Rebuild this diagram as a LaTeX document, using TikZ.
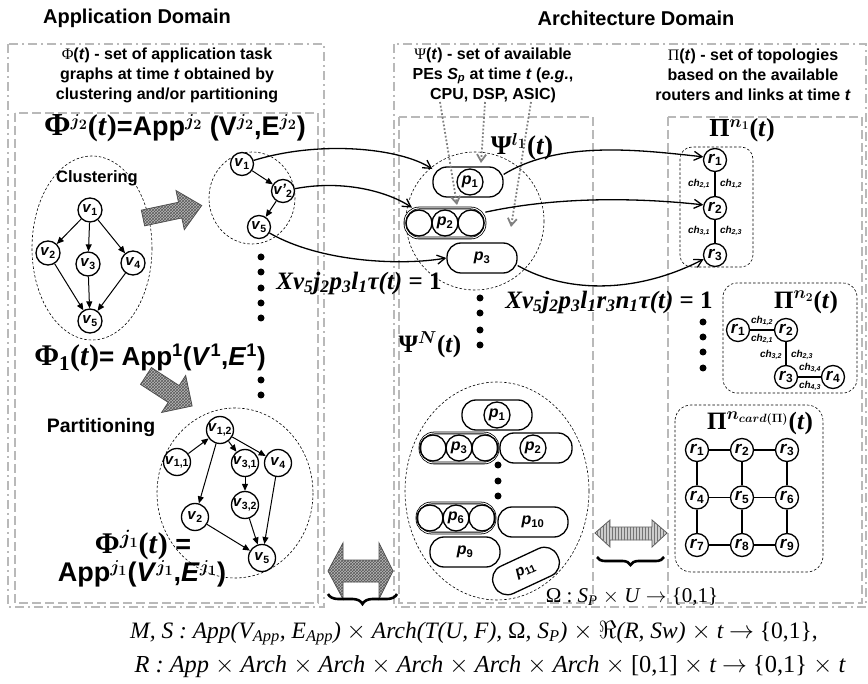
\documentclass[tikz,border=0pt]{standalone}
\usepackage{fontspec}
\setmainfont{Liberation Sans}
\newfontfamily\tms{Liberation Serif}
\usetikzlibrary{patterns,decorations.pathreplacing,arrows.meta,shapes.geometric}
\newcommand\vv[2]{\textit{#1}\textsubscript{#2}}
\begin{document}
\begin{tikzpicture}[x=1pt,y=-1pt,
  every node/.style={inner sep=0pt},
  gbox/.style={draw=gray!55, line width=1.6pt, dash pattern=on 9pt off 4pt on 2pt off 4pt},
  gin/.style={draw=gray!55, line width=1.3pt, dash pattern=on 9pt off 4pt},
  cloud/.style={draw, line width=0.6pt, dash pattern=on 2.5pt off 2pt},
  vn/.style={circle, draw, line width=1.3pt, minimum size=24pt, fill=white, font=\bfseries\fontsize{15}{15}\selectfont},
  rn/.style={circle, draw, line width=1.3pt, minimum size=23pt, fill=white, font=\bfseries\fontsize{17}{17}\selectfont},
  ge/.style={-{Triangle[length=7pt,width=6pt]}, line width=1pt},
  lk/.style={line width=1.3pt},
  pe/.style={draw, line width=1.3pt, rectangle, rounded corners=14pt, minimum width=70pt, minimum height=30pt, font=\bfseries\fontsize{16}{16}\selectfont},
  prow/.style={draw, double, double distance=1pt, line width=0.8pt, rectangle, rounded corners=14pt, minimum width=80pt, minimum height=30pt},
  pc/.style={circle, draw, line width=1.3pt, minimum size=26pt, font=\bfseries\fontsize{16}{16}\selectfont},
  map/.style={-{Straight Barb[length=8pt,width=9pt]}, line width=1.3pt},
  hint/.style={gray, line width=1.8pt, dotted, -{Straight Barb[length=7pt,width=9pt]}},
  dot/.style={circle, fill, minimum size=7pt},
  ch/.style={font=\bfseries\itshape\fontsize{10}{10}\selectfont},
  hatch/.style={draw=gray!60!black, line width=0.8pt, fill=gray!55, postaction={pattern=crosshatch, pattern color=black!65}},
  vhatch/.style={draw=gray!70!black, line width=0.8pt, fill=gray!40, postaction={pattern=vertical lines, pattern color=black!55}},
  brc/.style={decorate, decoration={brace, amplitude=10pt}, line width=2.6pt},
  eqn/.style={font=\tms\bfseries\itshape\fontsize{25}{25}\selectfont},
]
\useasboundingbox (0,0) rectangle (868,684);

% ---------- domain frames ----------
\draw[gbox] (8,44) rectangle (324,607);
\draw[gin] (15,113) rectangle (318,603);
\draw[gbox] (394,44) rectangle (866,607);
\draw[gin] (399,117) rectangle (593,603);
\draw[gin] (668,117) rectangle (862,603);

% ---------- titles and headers ----------
\node[font=\bfseries\fontsize{20}{20}\selectfont] (tapp) at (137,18) {Application Domain};
\node[font=\bfseries\fontsize{20}{20}\selectfont] (tarch) at (636,18) {Architecture Domain};
\node[align=center, font=\bfseries\fontsize{16}{20}\selectfont] (happ) at (167,75)
  {{\tms\mdseries Φ}(\textit{t}) - set of application task\\graphs at time \textit{t} obtained by\\clustering and/or partitioning};
\node[align=center, font=\bfseries\fontsize{16}{20}\selectfont] (hpe) at (493,75)
  {{\tms\mdseries Ψ}(\textit{t}) - set of available\\PEs \textit{S\textsubscript{p}} at time \textit{t} (\textit{e.g.},\\CPU, DSP, ASIC)};
\node[align=center, font=\bfseries\fontsize{16}{20}\selectfont] (htop) at (753,75)
  {{\tms\mdseries Π}(\textit{t}) - set of topologies\\based on the available\\routers and links at time \textit{t}};

% ---------- application graphs ----------
\node[font=\bfseries\fontsize{27}{27}\selectfont\boldmath] (phij2) at (175,128)
  {{\tms\fontsize{32}{32}\selectfont Φ}$^{j_2}${\tms\fontsize{30}{30}\selectfont(\textit{t})}=App$^{j_2}$ (V$^{j_2}$,E$^{j_2}$)};

\node[font=\bfseries\fontsize{16.5}{16.5}\selectfont] (clus) at (97,178) {Clustering};
\draw[cloud] (92,248) ellipse [x radius=60, y radius=92];
\node[vn] (a1) at (90,210) {\vv{v}{1}};
\node[vn] (a2) at (48,253) {\vv{v}{2}};
\node[vn] (a3) at (88,264) {\vv{v}{3}};
\node[vn] (a4) at (133,263) {\vv{v}{4}};
\node[vn] (a5) at (90,321) {\vv{v}{5}};
\draw[ge] (a1) -- (a2);
\draw[ge] (a1) -- (a3);
\draw[ge] (a1) -- (a4);
\draw[ge] (a2) -- (a5);
\draw[ge] (a3) -- (a5);
\draw[ge] (a4) -- (a5);

% clustering arrow
\begin{scope}[shift={(143,218)}, rotate=12]
  \draw[hatch] (0,-8) -- (38,-8) -- (38,-20) -- (60,0) -- (38,20) -- (38,8) -- (0,8) -- cycle;
\end{scope}

\draw[cloud] (252,198) ellipse [x radius=43, y radius=46];
\node[vn, minimum size=23pt] (b1) at (242,164) {\vv{v}{1}};
\node[vn, minimum size=23pt] (b2) at (283,191) {\textit{v'}\textsubscript{2}};
\node[vn, minimum size=23pt] (b5) at (259,227) {\vv{v}{5}};
\draw[ge] (b1) -- (b2);
\draw[ge] (b2) -- (b5);

\foreach \y [count=\i] in {257,272,288,303,318,380,395}
  \node[dot] (ld\i) at (261,\y) {};

\node[font=\bfseries\fontsize{26}{26}\selectfont] (phi1) at (150,358)
  {{\tms\fontsize{30}{30}\selectfont Φ\textsubscript{1}(\textit{t})}= App\textsuperscript{1}(\textit{V}\textsuperscript{1},\textit{E}\textsuperscript{1})};

% partitioning arrow
\begin{scope}[shift={(146,376)}, rotate=-33]
  \draw[hatch] (0,-10) -- (33,-10) -- (33,-22) -- (55,0) -- (33,22) -- (33,10) -- (0,10) -- cycle;
\end{scope}
\node[font=\bfseries\fontsize{19.5}{19.5}\selectfont] (part) at (101,428) {Partitioning};

\draw[cloud] (235,493) ellipse [x radius=78, y radius=85];
\node[vn, minimum size=27pt] (c12) at (220,430) {\vv{v}{1,2}};
\node[vn, minimum size=27pt] (c11) at (177,462) {\vv{v}{1,1}};
\node[vn, minimum size=27pt] (c31) at (245,463) {\vv{v}{3,1}};
\node[vn, minimum size=27pt] (c4) at (278,463) {\vv{v}{4}};
\node[vn, minimum size=27pt] (c2) at (195,517) {\vv{v}{2}};
\node[vn, minimum size=27pt] (c32) at (245,505) {\vv{v}{3,2}};
\node[vn, minimum size=27pt] (c5) at (262,558) {\vv{v}{5}};
\draw[ge] (c11) -- (c12);
\draw[ge] (c12) -- (c2);
\draw[ge] (c12) -- (c31);
\draw[ge] (c12) -- (c4);
\draw[ge] (c31) -- (c32);
\draw[ge] (c32) -- (c5);
\draw[ge] (c2) -- (c5);
\draw[ge] (c4) -- (c5);

\node[font=\bfseries\fontsize{27}{27}\selectfont\boldmath] (phij1a) at (143,545)
  {{\tms\fontsize{30}{30}\selectfont Φ$^{j_1}$(\textit{t})} =};
\node[font=\bfseries\fontsize{27}{27}\selectfont\boldmath] (phij1b) at (142,574)
  {App$^{j_1}$(\textit{V}$^{j_1}$,\textit{E}$^{j_1}$)};

% ---------- processing elements ----------
\node[font=\bfseries\fontsize{27}{27}\selectfont\boldmath] (psil) at (522,147)
  {{\tms Ψ}$^{l_1}${\tms(\textit{t})}};
\draw[cloud] (475,221) circle [radius=69];
\node[pe] (p1) at (468,182) {};
\node[pc] (p1c) at (470,182) {\vv{p}{1}};
\node[prow] (p2) at (445,223) {};
\node[pc] (p2l) at (419,223) {};
\node[pc] (p2c) at (445,223) {\vv{p}{2}};
\node[pc] (p2r) at (471,223) {};
\node[pe] (p3) at (482,258) {\vv{p}{3}};

\coordinate (h1) at (440,102);
\coordinate (h2) at (485,102);
\coordinate (h3) at (531,102);
\draw[hint] (h1) -- (457,205);
\draw[hint] (h2) -- (481,163);
\draw[hint] (h3) -- (511,227);

\foreach \y [count=\i] in {298,313,330,345}
  \node[dot] (md\i) at (480,\y) {};
\node[font=\bfseries\fontsize{25}{25}\selectfont\boldmath] (psin) at (430,345)
  {{\tms Ψ}$^{N}${\tms(\textit{t})}};

\draw[cloud] (497,491) ellipse [x radius=92, y radius=109];
\node[pe] (q1) at (497,415) {};
\node[pc] (q1c) at (497,415) {\vv{p}{1}};
\node[prow, minimum width=78pt] (q3) at (459,448) {};
\node[pc] (q3l) at (433,448) {};
\node[pc] (q3c) at (459,448) {\vv{p}{3}};
\node[pc] (q3r) at (485,448) {};
\node[pe, minimum width=72pt] (q2) at (536,448) {};
\node[pc] (q2c) at (533,448) {\vv{p}{2}};
\foreach \y [count=\i] in {465,481,496}
  \node[dot] (qd\i) at (498,\y) {};
\node[prow, minimum width=78pt] (q6) at (456,518) {};
\node[pc] (q6l) at (430,518) {};
\node[pc] (q6c) at (456,518) {\vv{p}{6}};
\node[pc] (q6r) at (482,518) {};
\node[pe] (q10) at (533,522) {\vv{p}{10}};
\node[pe] (q9) at (465,552) {\vv{p}{9}};
\node[pe, rotate=25, font=\bfseries\fontsize{15}{15}\selectfont] (q11) at (526,571) {\vv{p}{11}};

% ---------- topologies ----------
\node[font=\bfseries\fontsize{26}{26}\selectfont\boldmath] (pin1) at (742,130)
  {{\tms Π}$^{n_1}${\tms(\textit{t})}};
\draw[cloud, rounded corners=12pt] (680,147) rectangle (753,267);
\node[rn] (s1) at (715,160) {\vv{r}{1}};
\node[rn] (s2) at (715,208) {\vv{r}{2}};
\node[rn] (s3) at (715,255) {\vv{r}{3}};
\draw[lk] (s1) -- (s2);
\draw[lk] (s2) -- (s3);
\node[ch] (c21) at (699,184) {ch\textsubscript{2,1}};
\node[ch] (c12l) at (731,184) {ch\textsubscript{1,2}};
\node[ch] (c31l) at (699,231) {ch\textsubscript{3,1}};
\node[ch] (c23l) at (731,231) {ch\textsubscript{2,3}};

\draw[cloud, rounded corners=14pt] (723,283) rectangle (857,393);
\node[font=\bfseries\fontsize{25}{25}\selectfont\boldmath] (pin2) at (806,302)
  {{\tms Π}$^{n_2}${\tms(\textit{t})}};
\node[rn] (t1) at (738,330) {\vv{r}{1}};
\node[rn] (t2) at (786,330) {\vv{r}{2}};
\node[rn] (t3) at (786,377) {\vv{r}{3}};
\node[rn] (t4) at (833,377) {\vv{r}{4}};
\draw[lk] (t1) -- (t2);
\draw[lk] (t2) -- (t3);
\draw[lk] (t3) -- (t4);
\node[ch] (d12) at (762,321) {ch\textsubscript{1,2}};
\node[ch] (d21) at (762,339) {ch\textsubscript{2,1}};
\node[ch] (d32) at (771,355) {ch\textsubscript{3,2}};
\node[ch] (d23) at (802,355) {ch\textsubscript{2,3}};
\node[ch] (d34) at (810,368) {ch\textsubscript{3,4}};
\node[ch] (d43) at (810,386) {ch\textsubscript{4,3}};
\foreach \y [count=\i] in {322,337,352,368}
  \node[dot] (rd\i) at (703,\y) {};

\draw[cloud, rounded corners=16pt] (675,405) rectangle (823,572);
\node[font=\bfseries\fontsize{25}{25}\selectfont\boldmath] (pinc) at (760,423)
  {{\tms Π}$^{n_{card(\Pi)}}${\tms(\textit{t})}};
\foreach \r in {0,1,2}
  \foreach \c in {0,1,2} {
    \pgfmathtruncatemacro\k{3*\r+\c+1}
    \node[rn] (g\k) at (697+45*\c,450+47.5*\r) {\vv{r}{\k}};
  }
\foreach \a/\b in {g1/g2,g2/g3,g4/g5,g5/g6,g7/g8,g8/g9,g1/g4,g4/g7,g2/g5,g5/g8,g3/g6,g6/g9}
  \draw[lk] (\a) -- (\b);

% ---------- mappings ----------
\draw[map] (b1) .. controls (320,140) and (400,148) .. (p1.160);
\draw[map] (b2) .. controls (340,180) and (385,190) .. (p2.155);
\draw[map] (b5) .. controls (320,262) and (400,266) .. (p3.west);
\draw[map] (p1.12) .. controls (560,140) and (640,150) .. (s1.165);
\draw[map] (p2.15) .. controls (560,196) and (640,198) .. (s2.165);
\draw[map] (p3.-12) .. controls (570,295) and (640,292) .. (s3.200);

\node[eqn] (x1) at (359,283)
  {Xv\textsubscript{5}j\textsubscript{2}p\textsubscript{3}l\textsubscript{1}τ(t)\upshape{} = 1};
\node[eqn] (x2) at (609,302)
  {Xv\textsubscript{5}j\textsubscript{2}p\textsubscript{3}l\textsubscript{1}r\textsubscript{3}n\textsubscript{1}τ(t)\upshape{} = 1};

% ---------- bidirectional arrows and braces ----------
\draw[hatch] (328,571) -- (343,543) -- (343,560) -- (379,560) -- (379,543) -- (393,571)
  -- (379,599) -- (379,582) -- (343,582) -- (343,599) -- cycle;
\draw[vhatch] (595,533) -- (610,520) -- (610,527) -- (652,527) -- (652,520) -- (667,533)
  -- (652,547) -- (652,540) -- (610,540) -- (610,547) -- cycle;
\coordinate (bl1) at (397,594);
\coordinate (bl2) at (328,594);
\coordinate (br1) at (664,557);
\coordinate (br2) at (597,557);
\draw[brc] (bl1) -- (bl2);
\draw[brc, decoration={amplitude=8pt}] (br1) -- (br2);

\node[font=\tms\fontsize{21}{21}\selectfont] (omega) at (632,597)
  {Ω : \textit{S\textsubscript{P}} $\times$ \textit{U} $\rightarrow$ \{0,1\}};
\node[font=\tms\itshape\fontsize{23.5}{23.5}\selectfont] (fms) at (474,633)
  {M, S : App(V\textsubscript{App}, E\textsubscript{App}) $\times$ Arch(T(U, F), \upshape Ω\itshape, S\textsubscript{P}) $\times$ $\Re$(R, Sw) $\times$ t $\rightarrow$ \upshape\{0,1\},};
\node[font=\tms\itshape\fontsize{24.4}{24.4}\selectfont] (fr) at (490,667)
  {R : App $\times$ Arch $\times$ Arch $\times$ Arch $\times$ Arch $\times$ Arch $\times$ \upshape[0,1]\itshape{} $\times$ t $\rightarrow$ \upshape\{0,1\}\itshape{} $\times$ t};
\end{tikzpicture}
\end{document}
